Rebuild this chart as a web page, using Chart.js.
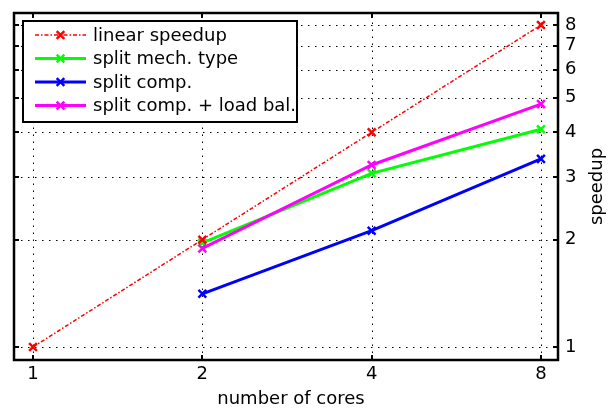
<!DOCTYPE html>
<html>
<head>
<meta charset="utf-8">
<script src="https://cdn.jsdelivr.net/npm/chart.js@4.4.1/dist/chart.umd.min.js"></script>
<style>
html,body{margin:0;padding:0;background:#fff;}
#wrap{width:612px;height:409px;position:relative;}
canvas{display:block;}
</style>
</head>
<body>
<div id="wrap"><canvas id="c" width="612" height="409"></canvas></div>
<script>
// ---- data ----
const cores = [1, 2, 4, 8];
const linearSpeedup = [1, 2, 4, 8];
const splitMechType = [null, 1.96, 3.07, 4.08];
const splitComp = [null, 1.41, 2.12, 3.37];
const splitCompLoadBal = [null, 1.89, 3.24, 4.80];
const seriesLabels = ['linear speedup', 'split mech. type', 'split comp.', 'split comp. + load bal.'];
const xTickValues = [1, 2, 4, 8];
const yTickValues = [1, 2, 3, 4, 5, 6, 7, 8];
const xTitle = 'number of cores';
const yTitle = 'speedup';

const FONT = 'DejaVu Sans';
Chart.defaults.font.family = FONT;
Chart.defaults.color = '#000';

function toPoints(arr) {
  return cores.map((c, i) => ({x: c, y: arr[i]})).filter(p => p.y !== null);
}

const datasets = [
  {label: seriesLabels[0], data: toPoints(linearSpeedup), borderColor: '#ff0000', backgroundColor: '#ff0000',
   borderWidth: 1.5, borderDash: [4, 2, 1.5, 2], order: 0},
  {label: seriesLabels[1], data: toPoints(splitMechType), borderColor: '#00ff00', backgroundColor: '#00ff00',
   borderWidth: 3, order: 3},
  {label: seriesLabels[2], data: toPoints(splitComp), borderColor: '#0000ff', backgroundColor: '#0000ff',
   borderWidth: 3, order: 2},
  {label: seriesLabels[3], data: toPoints(splitCompLoadBal), borderColor: '#ff00ff', backgroundColor: '#ff00ff',
   borderWidth: 3, order: 1}
];
datasets.forEach(d => {
  d.pointStyle = 'crossRot';
  d.pointRadius = 5.5;
  d.pointBorderWidth = 2.5;
  d.pointBorderColor = d.borderColor;
  d.tension = 0;
  d.fill = false;
});

function drawX(ctx, cx, cy, r) {
  ctx.beginPath();
  ctx.moveTo(cx - r, cy - r); ctx.lineTo(cx + r, cy + r);
  ctx.moveTo(cx - r, cy + r); ctx.lineTo(cx + r, cy - r);
  ctx.stroke();
}

const frame = {
  id: 'frame',
  beforeDatasetsDraw(chart) {
    const {ctx, chartArea: a, scales: {x, y}} = chart;
    ctx.save();
    ctx.strokeStyle = '#000';
    ctx.lineWidth = 1;
    ctx.setLineDash([1.5, 5.5]);
    xTickValues.forEach(v => {
      const p = Math.round(x.getPixelForValue(v)) + 0.5;
      ctx.beginPath(); ctx.moveTo(p, a.bottom); ctx.lineTo(p, a.top); ctx.stroke();
    });
    yTickValues.forEach(v => {
      const p = Math.round(y.getPixelForValue(v)) + 0.5;
      ctx.beginPath(); ctx.moveTo(a.left, p); ctx.lineTo(a.right, p); ctx.stroke();
    });
    ctx.restore();
  },
  afterDatasetsDraw(chart) {
    const {ctx, chartArea: a, scales: {x, y}} = chart;
    ctx.save();
    ctx.setLineDash([]);
    ctx.strokeStyle = '#000';
    // inward tick marks
    ctx.lineWidth = 2;
    const tl = 5;
    xTickValues.forEach(v => {
      const p = Math.round(x.getPixelForValue(v));
      ctx.beginPath();
      ctx.moveTo(p, a.bottom); ctx.lineTo(p, a.bottom - tl);
      ctx.moveTo(p, a.top); ctx.lineTo(p, a.top + tl);
      ctx.stroke();
    });
    yTickValues.forEach(v => {
      const p = Math.round(y.getPixelForValue(v));
      ctx.beginPath();
      ctx.moveTo(a.left, p); ctx.lineTo(a.left + tl, p);
      ctx.moveTo(a.right, p); ctx.lineTo(a.right - tl, p);
      ctx.stroke();
    });
    // axes box
    ctx.lineWidth = 2.5;
    ctx.strokeRect(a.left, a.top, a.right - a.left, a.bottom - a.top);

    // legend
    const lx = a.left + 9, ly = a.top + 8, lw = 274, lh = 101;
    ctx.fillStyle = '#fff';
    ctx.fillRect(lx, ly, lw, lh);
    ctx.lineWidth = 2;
    ctx.strokeRect(lx, ly, lw, lh);
    ctx.font = '18px "' + FONT + '"';
    ctx.textBaseline = 'middle';
    ctx.textAlign = 'left';
    chart.data.datasets.forEach((d, i) => {
      const ry = ly + 14 + i * 23.5;
      const x0 = lx + 12, x1 = lx + 63;
      ctx.strokeStyle = d.borderColor;
      ctx.lineWidth = d.borderWidth;
      ctx.setLineDash(d.borderDash || []);
      ctx.beginPath(); ctx.moveTo(x0, ry); ctx.lineTo(x1, ry); ctx.stroke();
      ctx.setLineDash([]);
      ctx.lineWidth = 2.5;
      drawX(ctx, (x0 + x1) / 2, ry, 3.8);
      ctx.fillStyle = '#000';
      ctx.fillText(d.label, lx + 70, ry + 1);
    });

    // axis titles
    ctx.fillStyle = '#000';
    ctx.font = '18px "' + FONT + '"';
    ctx.textAlign = 'center';
    ctx.textBaseline = 'alphabetic';
    ctx.fillText(xTitle, (a.left + a.right) / 2 + 5, chart.height - 5);
    ctx.save();
    ctx.translate(chart.width - 15, (a.top + a.bottom) / 2);
    ctx.rotate(-Math.PI / 2);
    ctx.textBaseline = 'middle';
    ctx.fillText(yTitle, 0, 0);
    ctx.restore();
    ctx.restore();
  }
};

new Chart(document.getElementById('c'), {
  type: 'line',
  data: {datasets},
  options: {
    responsive: false,
    animation: false,
    devicePixelRatio: 1,
    layout: {padding: {left: 14, top: 13, right: 0, bottom: 0}},
    plugins: {legend: {display: false}, tooltip: {enabled: false}},
    scales: {
      x: {
        type: 'logarithmic', position: 'bottom',
        min: 0.9252, max: 8.578,
        afterBuildTicks: s => { s.ticks = xTickValues.map(v => ({value: v})); },
        afterFit: s => { s.height = 49; s.paddingLeft = 0; s.paddingRight = 0; },
        grid: {display: false, drawTicks: false},
        border: {display: false},
        ticks: {font: {size: 18}, color: '#000', padding: 4, maxRotation: 0, autoSkip: false,
                callback: v => String(v)}
      },
      y: {
        type: 'logarithmic', position: 'right',
        min: 0.9195, max: 8.645,
        afterBuildTicks: s => { s.ticks = yTickValues.map(v => ({value: v})); },
        afterFit: s => { s.width = 54; s.paddingTop = 0; s.paddingBottom = 0; },
        grid: {display: false, drawTicks: false},
        border: {display: false},
        ticks: {font: {size: 18}, color: '#000', padding: 7, autoSkip: false,
                callback: v => String(v)}
      }
    }
  },
  plugins: [frame]
});
</script>
</body>
</html>
